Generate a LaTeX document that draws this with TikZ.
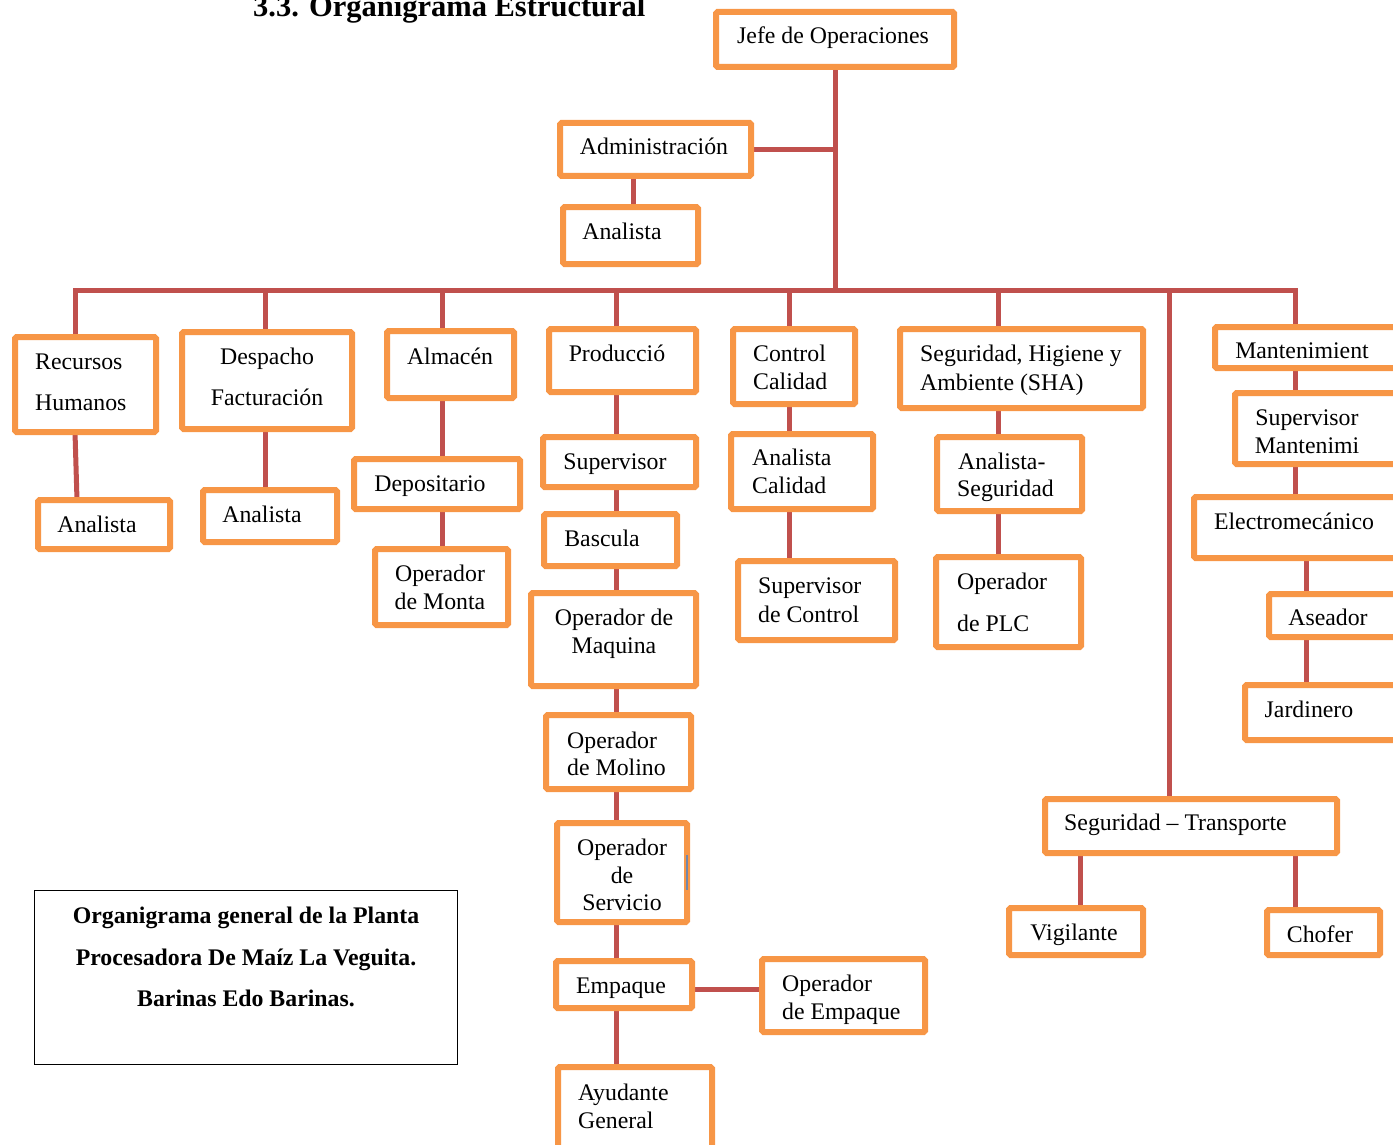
\documentclass[tikz,border=0pt]{standalone}
\usepackage{fontspec}
\setmainfont{Liberation Serif}
\usetikzlibrary{backgrounds}
\definecolor{boxorange}{HTML}{F79646}
\definecolor{linkred}{HTML}{C0504D}
\definecolor{slate}{HTML}{7386A8}

% box from outer corners (x1,y1)-(x2,y2), in pixel units
\newcommand\obox[5]{%
  \node[orgbox, minimum width={#4-#2-6}, minimum height={#5-#3-6}]
    (#1) at ({(#2+#4)/2},{(#3+#5)/2}) {};}
% centred text line, given its visual middle
\newcommand\tc[4]{\node[lbl, anchor=base] (#1) at (#2,{#3+7}) {#4};}
% left-aligned text line
\newcommand\tl[4]{\node[lbl, anchor=base west] (#1) at (#2,{#3+7}) {#4};}

\begin{document}
\begin{tikzpicture}[x=1pt, y=-1pt,
  orgbox/.style={draw=boxorange, line width=6pt, fill=white,
    rounded corners=1.5pt, inner sep=0pt, outer sep=0pt},
  lbl/.style={inner sep=0pt, font=\fontsize{23.8}{28}\selectfont},
  link/.style={draw=linkred, line width=5pt}]
\useasboundingbox (0,0) rectangle (1393,1145);
\clip (0,0) rectangle (1393,1145);

% heading
\node[inner sep=0pt, anchor=base west, font=\bfseries\fontsize{30.5}{34}\selectfont]
  (heading) at (253,17) {3.3. Organigrama Estructural};

% boxes
\obox{jefe}{713}{9}{957}{70}
\obox{adm}{557}{120}{754}{179}
\obox{aad}{560}{204}{701}{267}
\obox{rh}{12}{334}{159}{435}
\obox{arh}{35}{497}{173}{552}
\obox{df}{179}{329}{355}{432}
\obox{adf}{200}{487}{340}{545}
\obox{alm}{384}{328}{517}{401}
\obox{dep}{351}{456}{523}{512}
\obox{omo}{372}{546}{511}{628}
\obox{pro}{546}{326}{699}{395}
\obox{sup}{540}{434}{699}{490}
\obox{bas}{541}{511}{680}{569}
\obox{oma}{528}{590}{699}{689}
\obox{oml}{543}{712}{694}{792}
\obox{ose}{554}{820}{690}{925}
\obox{emp}{553}{958}{695}{1011}
\obox{oem}{759}{956}{928}{1035}
\obox{ayu}{555}{1064}{715}{1152}
\obox{cc}{730}{326}{858}{407}
\obox{acc}{728}{431}{876}{512}
\obox{spc}{735}{558}{898}{643}
\obox{sha}{897}{326}{1146}{411}
\obox{ase}{934}{434}{1085}{514}
\obox{plc}{933}{554}{1084}{650}
\obox{man}{1212}{324}{1400}{371}
\obox{smn}{1232}{390}{1400}{467}
\obox{ele}{1191}{494}{1400}{561}
\obox{asd}{1266}{591}{1400}{640}
\obox{jar}{1242}{682}{1400}{743}
\obox{stp}{1042}{796}{1340}{856}
\obox{vig}{1006}{905}{1146}{958}
\obox{cho}{1264}{907}{1383}{958}

% small mark on the right edge of the service box
\draw[slate, line width=2pt] (ose.east |- 0,855) -- (ose.east |- 0,890);

% legend box
\node[draw=black, line width=1.2pt, minimum width=423pt, minimum height=174pt,
  inner sep=0pt] (legend) at (246,977.5) {};
\tc{lg1}{246}{916}{\bfseries Organigrama general de la Planta}
\tc{lg2}{246}{958}{\bfseries Procesadora De Maíz La Veguita.}
\tc{lg3}{246}{999}{\bfseries Barinas Edo Barinas.}

% labels
\tc{t-jefe}{833}{37}{Jefe de Operaciones}
\tc{t-adm}{654}{148}{Administración}
\tc{t-aad}{622}{232}{Analista}
\tl{t-rh1}{35}{362}{Recursos}
\tl{t-rh2}{35}{403}{Humanos}
\tc{t-arh}{97}{525}{Analista}
\tc{t-df1}{267}{357}{Despacho}
\tc{t-df2}{267}{398}{Facturación}
\tc{t-adf}{262}{515}{Analista}
\tc{t-alm}{450}{357}{Almacén}
\tc{t-dep}{430}{484}{Depositario}
\tc{t-omo1}{440}{574}{Operador}
\tc{t-omo2}{440}{602}{de Monta}
\tc{t-pro}{617}{354}{Producció}
\tc{t-sup}{615}{462}{Supervisor}
\tc{t-bas}{602}{539}{Bascula}
\tc{t-oma1}{614}{618}{Operador de}
\tc{t-oma2}{614}{646}{Maquina}
\tl{t-oml1}{567}{741}{Operador}
\tl{t-oml2}{567}{768}{de Molino}
\tc{t-ose1}{622}{848}{Operador}
\tc{t-ose2}{622}{876}{de}
\tc{t-ose3}{622}{903}{Servicio}
\tc{t-emp}{621}{986}{Empaque}
\tl{t-oem1}{782}{984}{Operador}
\tl{t-oem2}{782}{1012}{de Empaque}
\tl{t-ayu1}{578}{1093}{Ayudante}
\tl{t-ayu2}{578}{1121}{General}
\tl{t-cc1}{753}{354}{Control}
\tl{t-cc2}{753}{382}{Calidad}
\tl{t-acc1}{752}{458}{Analista}
\tl{t-acc2}{752}{486}{Calidad}
\tl{t-spc1}{758}{586}{Supervisor}
\tl{t-spc2}{758}{615}{de Control}
\tl{t-sha1}{920}{354}{Seguridad, Higiene y}
\tl{t-sha2}{920}{383}{Ambiente (SHA)}
\tl{t-ase1}{958}{462}{Analista-}
\tl{t-ase2}{957}{489}{Seguridad}
\tl{t-plc1}{957}{582}{Operador}
\tl{t-plc2}{957}{624}{de PLC}
\tc{t-man}{1302}{351}{Mantenimient}
\tc{t-smn1}{1307}{418}{Supervisor}
\tc{t-smn2}{1307}{446}{Mantenimi}
\tc{t-ele}{1294}{522}{Electromecánico}
\tc{t-asd}{1328}{618}{Aseador}
\tc{t-jar}{1309}{710}{Jardinero}
\tl{t-stp}{1064}{823}{Seguridad – Transporte}
\tc{t-vig}{1074}{933}{Vigilante}
\tc{t-cho}{1320}{935}{Chofer}

% branch points on the main bar and x-positions of vertical links
\coordinate (bRH) at (75,290);
\coordinate (bDF) at (265,290);
\coordinate (bAL) at (442,290);
\coordinate (bPR) at (616,290);
\coordinate (bCC) at (789,290);
\coordinate (bSH) at (998,290);
\coordinate (bST) at (1169,290);
\coordinate (bMA) at (1295,290);
\coordinate (xRH) at (77,0);
\coordinate (xADM) at (633,0);
\coordinate (xMA) at (1306,0);
\coordinate (xVG) at (1080,0);
\coordinate (xCH) at (1295,0);
\coordinate (yE) at (0,989);

% connectors
\begin{scope}[on background layer]
\draw[link] (jefe.south) -- (jefe.south |- bRH);
\draw[link] (bRH |- rh.north) -- (bRH) -- (bMA) -- (bMA |- man.north);
\draw[link] (adm.east) -- (adm.east -| jefe.south);
\draw[link] (xADM |- adm.south) -- (xADM |- aad.north);

\draw[link] (bRH |- rh.south) -- (xRH |- arh.north);
\draw[link] (bDF) -- (bDF |- df.north);
\draw[link] (bDF |- df.south) -- (bDF |- adf.north);
\draw[link] (bAL) -- (bAL |- alm.north);
\draw[link] (bAL |- alm.south) -- (bAL |- dep.north);
\draw[link] (bAL |- dep.south) -- (bAL |- omo.north);

\draw[link] (bPR) -- (bPR |- pro.north);
\draw[link] (bPR |- pro.south) -- (bPR |- sup.north);
\draw[link] (bPR |- sup.south) -- (bPR |- bas.north);
\draw[link] (bPR |- bas.south) -- (bPR |- oma.north);
\draw[link] (bPR |- oma.south) -- (bPR |- oml.north);
\draw[link] (bPR |- oml.south) -- (bPR |- ose.north);
\draw[link] (bPR |- ose.south) -- (bPR |- emp.north);
\draw[link] (bPR |- emp.south) -- (bPR |- ayu.north);
\draw[link] (emp.east |- yE) -- (oem.west |- yE);

\draw[link] (bCC) -- (bCC |- cc.north);
\draw[link] (bCC |- cc.south) -- (bCC |- acc.north);
\draw[link] (bCC |- acc.south) -- (bCC |- spc.north);

\draw[link] (bSH) -- (bSH |- sha.north);
\draw[link] (bSH |- sha.south) -- (bSH |- ase.north);
\draw[link] (bSH |- ase.south) -- (bSH |- plc.north);

\draw[link] (bST) -- (bST |- stp.north);
\draw[link] (xVG |- stp.south) -- (xVG |- vig.north);
\draw[link] (xCH |- stp.south) -- (xCH |- cho.north);

\draw[link] (bMA |- man.south) -- (bMA |- smn.north);
\draw[link] (bMA |- smn.south) -- (bMA |- ele.north);
\draw[link] (xMA |- ele.south) -- (xMA |- asd.north);
\draw[link] (xMA |- asd.south) -- (xMA |- jar.north);
\end{scope}
\end{tikzpicture}
\end{document}
